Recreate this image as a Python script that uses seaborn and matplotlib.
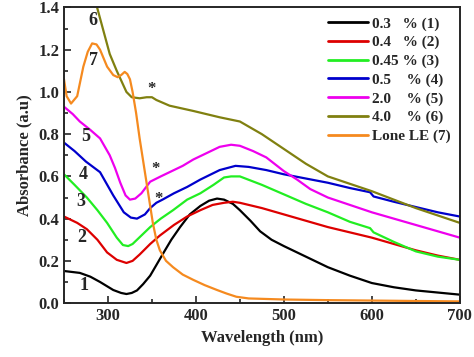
import matplotlib
matplotlib.use("Agg")
import matplotlib.pyplot as plt
import matplotlib.ticker as tkr
import seaborn as sns

# absorbance spectra
x1 = [250, 268, 280, 291, 306, 315, 321, 327, 333, 340, 348, 355, 362, 372, 382, 393, 405, 415, 424, 432, 442, 450, 462, 473, 486, 500, 525, 550, 575, 600, 625, 650, 675, 700]
y1 = [0.152, 0.143, 0.125, 0.10, 0.062, 0.048, 0.043, 0.048, 0.06, 0.09, 0.13, 0.18, 0.23, 0.30, 0.36, 0.42, 0.46, 0.485, 0.495, 0.49, 0.47, 0.44, 0.39, 0.34, 0.30, 0.27, 0.22, 0.17, 0.13, 0.095, 0.075, 0.06, 0.05, 0.04]

x2 = [250, 265, 276, 288, 299, 310, 321, 328, 336, 348, 359, 375, 390, 405, 419, 432, 442, 450, 475, 500, 525, 550, 575, 600, 625, 650, 675, 700]
y2 = [0.41, 0.38, 0.35, 0.30, 0.24, 0.205, 0.19, 0.20, 0.23, 0.28, 0.32, 0.37, 0.41, 0.44, 0.465, 0.475, 0.48, 0.475, 0.45, 0.42, 0.39, 0.36, 0.335, 0.31, 0.28, 0.25, 0.225, 0.205]

x3 = [250, 262, 276, 288, 299, 310, 317, 323, 328, 338, 348, 360, 374, 390, 405, 420, 432, 440, 450, 475, 500, 525, 550, 575, 598, 602, 625, 650, 675, 700]
y3 = [0.61, 0.56, 0.50, 0.44, 0.38, 0.31, 0.275, 0.27, 0.28, 0.32, 0.36, 0.40, 0.44, 0.49, 0.52, 0.56, 0.595, 0.60, 0.60, 0.56, 0.515, 0.47, 0.43, 0.385, 0.355, 0.335, 0.29, 0.245, 0.22, 0.205]

x4 = [250, 262, 275, 291, 306, 318, 326, 333, 342, 348, 355, 362, 375, 390, 405, 427, 445, 460, 480, 500, 525, 550, 575, 598, 602, 625, 650, 675, 700]
y4 = [0.76, 0.72, 0.67, 0.62, 0.51, 0.43, 0.405, 0.40, 0.42, 0.45, 0.475, 0.49, 0.52, 0.55, 0.585, 0.63, 0.65, 0.645, 0.63, 0.61, 0.59, 0.57, 0.545, 0.525, 0.505, 0.48, 0.455, 0.43, 0.41]

x5 = [250, 260, 268, 280, 291, 302, 308, 314, 320, 325, 331, 338, 348, 360, 370, 385, 397, 412, 427, 440, 450, 465, 480, 500, 515, 530, 550, 575, 600, 625, 650, 675, 700]
y5 = [0.93, 0.895, 0.86, 0.82, 0.78, 0.70, 0.64, 0.57, 0.51, 0.49, 0.495, 0.52, 0.575, 0.60, 0.62, 0.65, 0.68, 0.71, 0.74, 0.75, 0.745, 0.72, 0.69, 0.625, 0.585, 0.54, 0.50, 0.465, 0.43, 0.40, 0.37, 0.34, 0.31]

x6 = [270, 280, 287, 302, 310, 321, 327, 336, 344, 350, 355, 370, 397, 427, 450, 475, 500, 525, 550, 575, 600, 625, 650, 675, 700]
y6 = [1.60, 1.48, 1.41, 1.18, 1.10, 1.00, 0.975, 0.97, 0.975, 0.975, 0.962, 0.935, 0.91, 0.88, 0.86, 0.80, 0.73, 0.66, 0.60, 0.565, 0.53, 0.49, 0.45, 0.415, 0.38]

x7 = [250, 253, 258, 265, 272, 277, 282, 287, 291, 299, 306, 311, 315, 319, 322, 325, 328, 332, 336, 342, 345, 348, 351, 355, 359, 366, 374, 385, 397, 410, 424, 435, 446, 460, 500, 550, 600, 650, 700]
y7 = [1.06, 0.98, 0.945, 0.98, 1.12, 1.19, 1.23, 1.225, 1.20, 1.12, 1.08, 1.07, 1.08, 1.095, 1.085, 1.06, 1.00, 0.90, 0.78, 0.62, 0.54, 0.46, 0.38, 0.30, 0.25, 0.20, 0.17, 0.135, 0.11, 0.085, 0.062, 0.045, 0.03, 0.022, 0.017, 0.014, 0.012, 0.01, 0.008]

labels = ["0.3   % (1)", "0.4   % (2)", "0.45 % (3)", "0.5    % (4)", "2.0    % (5)", "4.0    % (6)", "Lone LE (7)"]
colors = ["#000000", "#dd0000", "#22ee22", "#0000cc", "#ee00ee", "#808010", "#f58a1f"]

# curve numbers and the asterisks
num_text = ["1", "2", "3", "4", "5", "6", "7"]
num_x = [273, 270, 269, 272, 275, 283, 283]
num_y = [0.085, 0.31, 0.48, 0.61, 0.79, 1.34, 1.15]
star_x = [350, 354, 357]
star_y = [1.015, 0.635, 0.495]

sns.set_style("ticks")
plt.rcParams["font.family"] = ["Liberation Serif", "DejaVu Serif"]
plt.rcParams["font.weight"] = "bold"

fig = plt.figure(figsize=(4.74, 3.57), dpi=100)
ax = fig.add_axes([0.135, 0.151, 0.835, 0.828])

series = [(x1, y1), (x2, y2), (x3, y3), (x4, y4), (x5, y5), (x6, y6), (x7, y7)]
for (xs, ys), lab, col in zip(series, labels, colors):
    sns.lineplot(x=xs, y=ys, color=col, label=lab, linewidth=1.6, sort=False, ax=ax)

for t, tx, ty in zip(num_text, num_x, num_y):
    ax.text(tx, ty, t, fontsize=13, fontweight="bold", ha="center", va="center")
for sx, sy in zip(star_x, star_y):
    ax.text(sx, sy, "*", fontsize=12, fontweight="bold", ha="center", va="center")

ax.set_xlim(250, 700)
ax.set_ylim(0, 1.4)
ax.xaxis.set_major_locator(tkr.MultipleLocator(100))
ax.xaxis.set_minor_locator(tkr.MultipleLocator(50))
ax.yaxis.set_major_locator(tkr.MultipleLocator(0.2))
ax.yaxis.set_minor_locator(tkr.MultipleLocator(0.1))
ax.yaxis.set_major_formatter(tkr.FormatStrFormatter("%.1f"))
ax.tick_params(which="both", direction="in", width=1.2, labelsize=12)
ax.tick_params(which="major", length=5)
ax.tick_params(which="minor", length=3)
for lbl in ax.get_xticklabels() + ax.get_yticklabels():
    lbl.set_fontweight("bold")
for sp in ax.spines.values():
    sp.set_visible(True)
    sp.set_linewidth(1.4)

ax.set_xlabel("Wavelength (nm)", fontsize=12, fontweight="bold")
ax.set_ylabel("Absorbance (a.u)", fontsize=12, fontweight="bold", labelpad=4)

leg = ax.legend(loc="upper right", frameon=False, fontsize=11, handlelength=2.6,
                handletextpad=0.25, labelspacing=0.32, borderaxespad=0.2)
for line in leg.get_lines():
    line.set_linewidth(2)

fig.savefig("out.png", dpi=100)
